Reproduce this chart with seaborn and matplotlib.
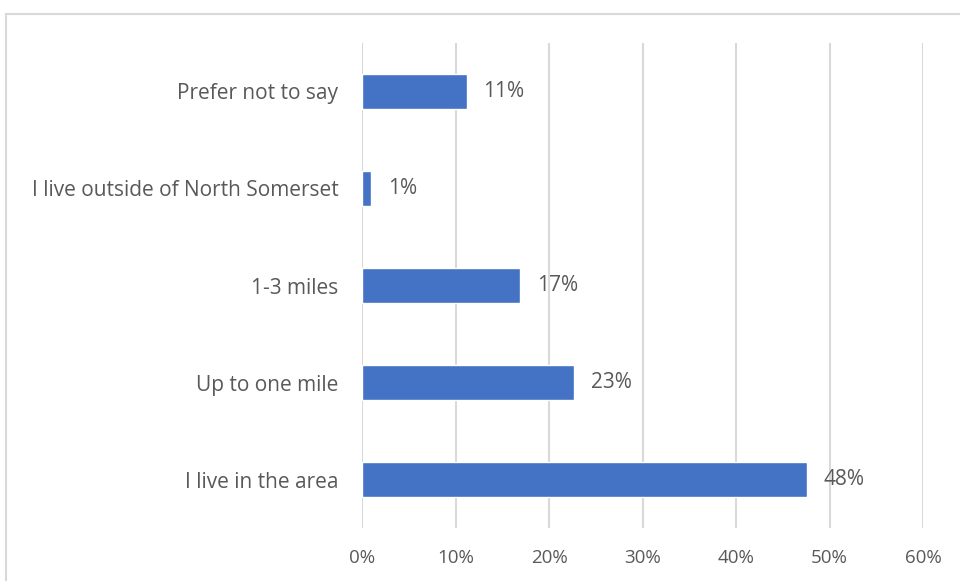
import numpy as np
import pandas as pd
import matplotlib
matplotlib.use("Agg")
import matplotlib.pyplot as plt
from matplotlib.patches import Rectangle
from matplotlib.ticker import PercentFormatter
import seaborn as sns

# Survey answers, top to bottom as shown
categories = ["Prefer not to say", "I live outside of North Somerset",
              "1-3 miles", "Up to one mile", "I live in the area"]
shares = [0.112, 0.0096, 0.169, 0.227, 0.476]
tick_values = [0, 0.1, 0.2, 0.3, 0.4, 0.5, 0.6]

df = pd.DataFrame({"answer": categories, "share": shares})

sns.set_style("white")
plt.rcParams["font.family"] = ["Open Sans", "DejaVu Sans"]
text_color = "#595959"

fig = plt.figure(figsize=(9.6, 5.81), dpi=100)
ax = fig.add_axes([362 / 960, 1 - 528 / 581, (923 - 362) / 960, (528 - 43) / 581])

sns.barplot(data=df, x="share", y="answer", order=categories, color="#4472C4",
            width=0.36, saturation=1, ax=ax, zorder=3)

ax.set_xlim(0, 0.6)
ax.set_xticks(tick_values)
ax.xaxis.set_major_formatter(PercentFormatter(1.0, decimals=0))
ax.grid(axis="x", color="#d9d9d9", linewidth=1.5, zorder=0)
ax.set_axisbelow(True)
ax.set_xlabel("")
ax.set_ylabel("")
for s in ax.spines.values():
    s.set_visible(False)
ax.tick_params(axis="x", length=0, pad=15, labelsize=13.5, labelcolor=text_color)
ax.tick_params(axis="y", length=0, pad=17, labelsize=15, labelcolor=text_color)

labels = [f"{v:.0%}" for v in shares]
for t in ax.bar_label(ax.containers[0], labels=labels, padding=12, fontsize=15,
                      color=text_color):
    t.set_va("center")

# chart frame, cropped on the right and bottom
fig.add_artist(Rectangle((6 / 960, -0.05), 1.2, 1 - 14 / 581 + 0.05,
                         transform=fig.transFigure, fill=False,
                         edgecolor="#d9d9d9", linewidth=1.5))

fig.savefig("out.png", dpi=100)
